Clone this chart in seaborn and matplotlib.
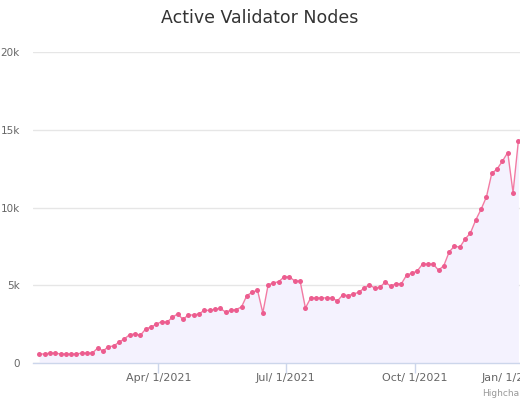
import numpy as np
import pandas as pd
import matplotlib
matplotlib.use("Agg")
import matplotlib.pyplot as plt
from matplotlib.transforms import ScaledTranslation
import seaborn as sns

title = "Active Validator Nodes"
start_date = "2021-01-06"
end_date = "2021-12-14"
nodes_k = [
    0.58, 0.58, 0.64, 0.64, 0.58, 0.58, 0.58, 0.58, 0.64, 0.64,
    0.64, 0.97, 0.77, 1.06, 1.09, 1.35, 1.55, 1.83, 1.87, 1.78,
    2.19, 2.32, 2.49, 2.67, 2.62, 2.94, 3.16, 2.81, 3.09, 3.09,
    3.16, 3.39, 3.39, 3.46, 3.52, 3.28, 3.39, 3.44, 3.61, 4.34,
    4.55, 4.69, 3.23, 5.03, 5.15, 5.24, 5.54, 5.54, 5.28, 5.28,
    3.54, 4.19, 4.19, 4.19, 4.19, 4.19, 3.99, 4.38, 4.34, 4.44,
    4.55, 4.81, 5.03, 4.83, 4.87, 5.22, 4.94, 5.11, 5.09, 5.65,
    5.78, 5.92, 6.37, 6.37, 6.37, 5.97, 6.27, 7.15, 7.53, 7.45,
    7.98, 8.37, 9.21, 9.90, 10.69, 12.20, 12.49, 12.99, 13.55, 10.97,
    14.30,
]
y_ticks = [0, 5000, 10000, 15000, 20000]
y_tick_labels = ["0", "5k", "10k", "15k", "20k"]
x_ticks = ["2021-04-01", "2021-07-01", "2021-10-01", "2022-01-01"]
x_tick_labels = ["Apr/ 1/2021", "Jul/ 1/2021", "Oct/ 1/2021", "Jan/ 1/2022"]

dates = pd.date_range(start_date, end_date, periods=len(nodes_k))
df = pd.DataFrame({"date": dates, "nodes": np.array(nodes_k) * 1000})

sns.set_theme(style="white")
plt.rcParams["font.family"] = ["DejaVu Sans"]

W, H = 520, 400
fig = plt.figure(figsize=(W / 100, H / 100), dpi=100)
left_px, right_px, top_px, bottom_px = 33, 570, 52.3, 363
ax = fig.add_axes([left_px / W, (H - bottom_px) / H,
                   (right_px - left_px) / W, (bottom_px - top_px) / H])

x0 = pd.Timestamp("2021-04-01")
x1 = pd.Timestamp("2021-10-01")
ppd = (414.7 - 158.3) / (x1 - x0).days
xmin = x0 - pd.Timedelta(days=(158.3 - left_px) / ppd)
xmax = x1 + pd.Timedelta(days=(right_px - 414.7) / ppd)

ax.fill_between(df["date"], df["nodes"], 0, color="#f4f2fe", zorder=1, linewidth=0)
sns.lineplot(data=df, x="date", y="nodes", ax=ax, color="#f27ba3", linewidth=1.0,
             marker="o", markersize=3.6, markeredgewidth=0,
             markerfacecolor="#ec5d8f", zorder=3)

ax.set_xlim(xmin, xmax)
ax.set_ylim(0, 20000)
ax.set_yticks(y_ticks)
ax.set_yticklabels(y_tick_labels)
ax.set_xticks([pd.Timestamp(t) for t in x_ticks])
ax.set_xticklabels(x_tick_labels)
ax.set_xlabel("")
ax.set_ylabel("")

for s in ["top", "right", "left"]:
    ax.spines[s].set_visible(False)
ax.spines["bottom"].set_color("#ccd6eb")
ax.spines["bottom"].set_linewidth(1)
ax.yaxis.grid(True, color="#e6e6e6", linewidth=1)
ax.set_axisbelow(True)
ax.tick_params(axis="y", length=0, pad=9.5, labelsize=7.5, labelcolor="#666666")
ax.tick_params(axis="x", length=7, width=1, color="#ccd6eb", pad=0.5,
               labelsize=8, labelcolor="#666666", direction="out")
ax.xaxis.set_ticks_position("bottom")

# last label is justified inward like the original
lbls = ax.get_xticklabels()
lbls[-1].set_horizontalalignment("left")
lbls[-1].set_transform(lbls[-1].get_transform() +
                       ScaledTranslation(-62.0 / 100, 0, fig.dpi_scale_trans))

fig.text(260 / W, 1 - 18 / H, title, ha="center", va="center",
         fontsize=12.5, color="#333333")
fig.text(482 / W, 1 - 393 / H, "Highcharts.com", ha="left", va="center",
         fontsize=6.5, color="#999999")

fig.savefig("out.png", dpi=100)
